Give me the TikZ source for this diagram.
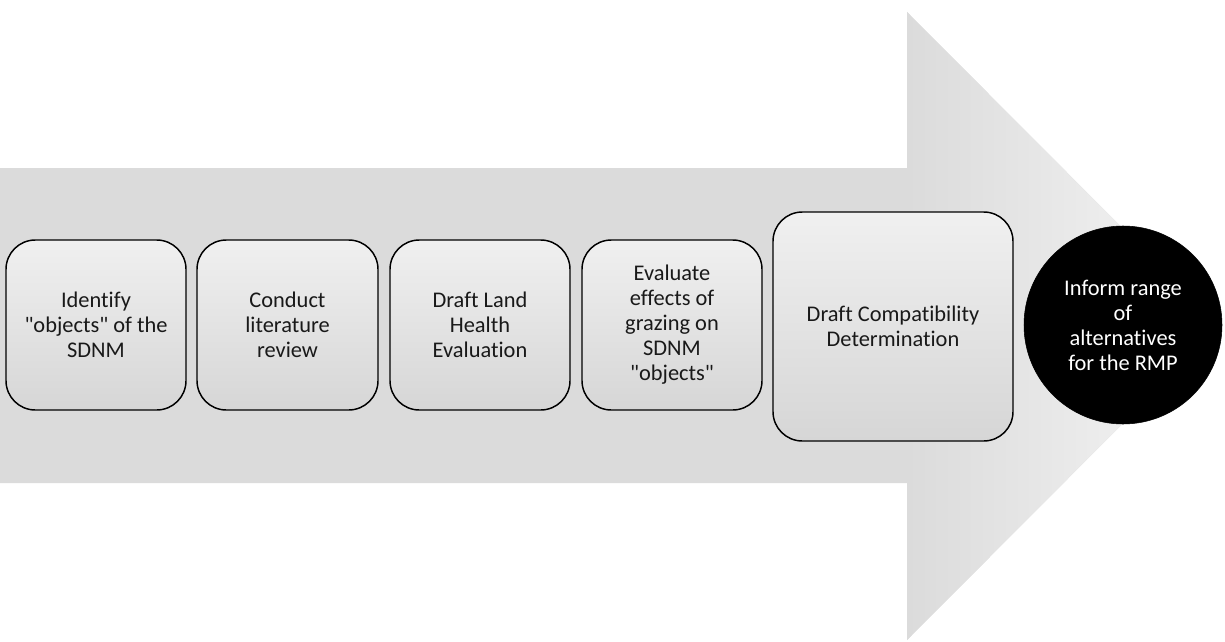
\documentclass[tikz,border=0pt]{standalone}
\usepackage{fontspec}
\setmainfont{Carlito}[Ligatures={TeX,NoCommon}]
\definecolor{arrowgray}{RGB}{219,219,219}
\definecolor{arrowend}{RGB}{246,246,246}
\definecolor{boxtop}{RGB}{240,240,240}
\definecolor{boxbot}{RGB}{214,214,214}
\definecolor{textdark}{RGB}{25,25,25}
\newcommand{\qq}{\textquotedbl}
\begin{document}
\begin{tikzpicture}[x=0.75pt,y=-0.75pt,
  stepbox/.style={draw=black, line width=1.1pt, rounded corners=22pt,
    top color=boxtop, bottom color=boxbot, align=center, inner sep=0pt,
    text=textdark, font=\fontsize{16.8}{18.75}\selectfont,
    minimum width=135pt, minimum height=127.5pt},
  endcircle/.style={circle, fill=black, draw=black, minimum size=148.5pt,
    inner sep=0pt, align=center, text=white,
    font=\fontsize{16.8}{18.75}\selectfont}]
\useasboundingbox (0,0) rectangle (1225,642);
% big arrow
\fill[arrowgray] (0,168) -- (907,168) -- (907,12) -- (1220,326) -- (907,640)
  -- (907,483) -- (0,483) -- cycle;
\shade[left color=arrowgray, right color=arrowend]
  (907,12) -- (1220,326) -- (907,640) -- cycle;
% steps
\node[stepbox] (s1) at (96,325) {Identify\\\qq objects\qq{} of the\\SDNM};
\node[stepbox, minimum width=135.75pt] (s2) at (287.5,325) {Conduct\\literature\\review};
\node[stepbox] (s3) at (480,325) {Draft Land\\Health\\Evaluation};
\node[stepbox] (s4) at (672,325) {Evaluate\\effects of\\grazing on\\SDNM\\\qq objects\qq};
\node[stepbox, minimum width=180pt, minimum height=171.75pt] (s5) at (893,326.5)
  {Draft Compatibility\\Determination};
\node[endcircle] (c) at (1123,325) {Inform range\\of\\alternatives\\for the RMP};
\end{tikzpicture}
\end{document}
